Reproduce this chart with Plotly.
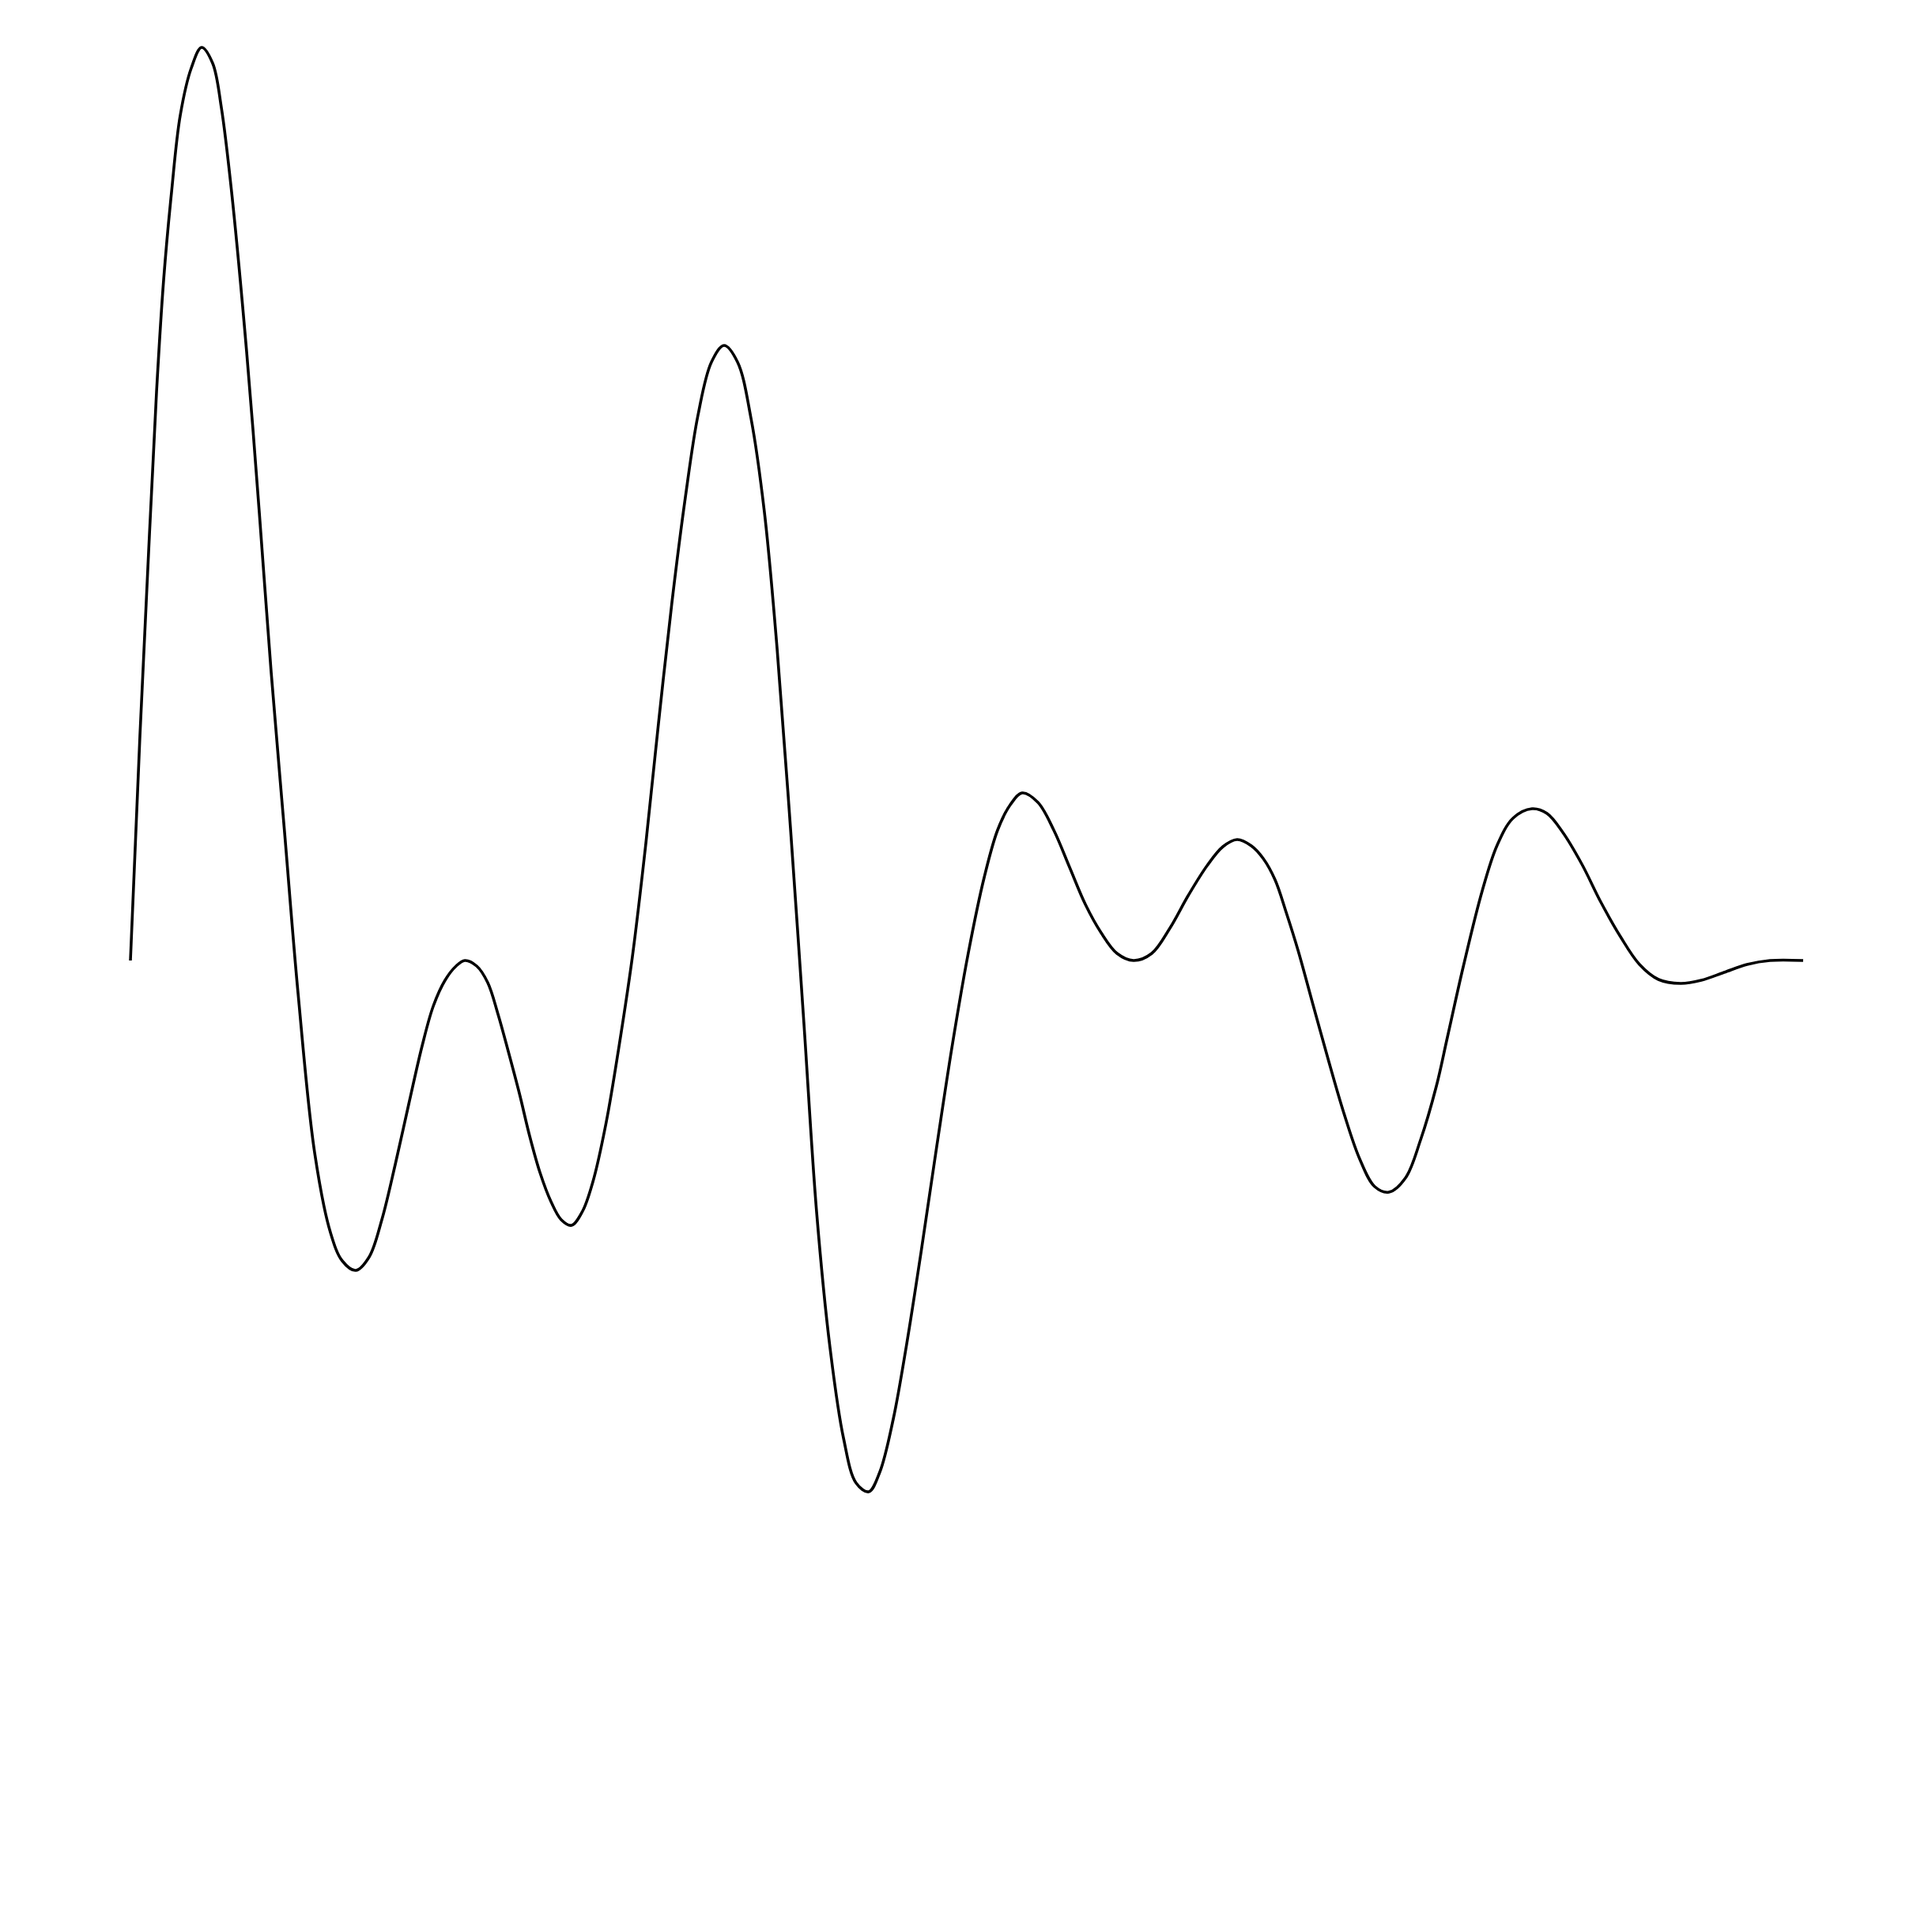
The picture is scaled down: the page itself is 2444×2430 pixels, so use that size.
import plotly.graph_objects as go

# time (arbitrary units) and amplitude
time = [0, 1.2, 2.3, 3.3, 4.2, 5.2, 6.3, 7.7, 9.0, 10.4, 11.5, 12.8, 14.7, 16.3, 17.8, 19.5,
        21.2, 23.3, 25.3, 26.8,
        28.5, 30.2, 31.8, 33.5, 35.2, 36.9, 38.3, 39.8, 41.2, 42.3,
        43.8, 45.2, 46.5, 47.8, 49.2, 50.5, 51.8, 53.2, 54.5, 55.8,
        57.2, 58.5, 60.2, 61.8, 63.5, 65.2, 66.8, 68.5, 70.2,
        71.8, 73.5, 75.1, 76.8, 78.5, 80.2, 81.8, 83.5, 85.2, 86.8, 88.5, 90.2, 91.8, 93.4,
        94.8, 96.5, 98.2, 100.0, 102.0, 104.0, 106.0, 108.0, 109.7, 111.3, 112.8, 114.8,
        116.8, 118.8, 120.8, 122.8, 124.8, 126.9, 129.2, 131.5, 133.8, 136.2, 138.2, 140.0,
        141.8, 143.3, 144.8, 146.2, 147.7, 149.6, 151.6, 153.5, 155.5, 157.4, 159.2, 161.3,
        163.2, 165.2, 166.6, 168.6, 171.0, 172.9, 174.9, 177.3, 179.2, 181.2, 183.6, 186.0,
        188.5, 190.9, 193.3, 196.1, 198.7, 201.6, 204.5, 207.4, 211.6]

amplitude = [0, 28.4, 51.7, 71.9, 86.1, 97.2, 106.9, 112.9, 115.5, 113.5, 107.9, 97.2, 77.0,
             56.7, 36.5, 16.2, -4.1, -24.3, -34.4, -38.0,
             -39.2, -37.5, -32.8, -25.8, -18.2, -10.8, -5.8, -2.5, -0.7, 0,
             -0.7, -2.8, -6.8, -11.5, -16.8, -22.2, -26.8, -30.5, -32.8, -33.5,
             -31.7, -28.0, -20.4, -10.9, 0.5, 14.8, 30.0, 45.3, 58.6,
             69.0, 75.7, 77.8, 75.7, 68.6, 56.7, 39.5, 16.7,
             -8.0, -31.8, -49.0, -60.4, -66.1, -67.2, -64.7, -58.0, -48.5, -37.0, -23.5, -10.5,
             1.0, 10.5, 16.5, 19.7, 21.2, 20.0, 16.5, 11.8, 7.1, 3.5, 0.9, 0, 0.9, 4.1, 8.2,
             12.0, 14.4, 15.3, 14.5, 12.9, 10.2, 6.1, 1.3, -5.6, -12.8, -19.3, -25.1, -28.6,
             -29.3, -27.5, -22.7, -15.9, -9.7, -0.8, 8.8, 14.6, 18.0, 19.2, 18.6, 16.2, 12.2,
             7.4, 3.0, -0.5, -2.4, -2.9, -2.5, -1.5, -0.5, 0, 0]

fig = go.Figure(
    go.Scatter(
        x=time,
        y=amplitude,
        mode="lines",
        line=dict(color="black", width=3.6, shape="spline", smoothing=1.0),
        hoverinfo="skip",
    )
)

fig.update_layout(
    width=2428,
    height=2414,
    margin=dict(l=0, r=0, t=0, b=0),
    paper_bgcolor="white",
    plot_bgcolor="white",
    showlegend=False,
    xaxis=dict(visible=False, range=[-15.7, 227.1]),
    yaxis=dict(visible=False, range=[-120.7, 120.7]),
)

fig.write_html("out.html")
